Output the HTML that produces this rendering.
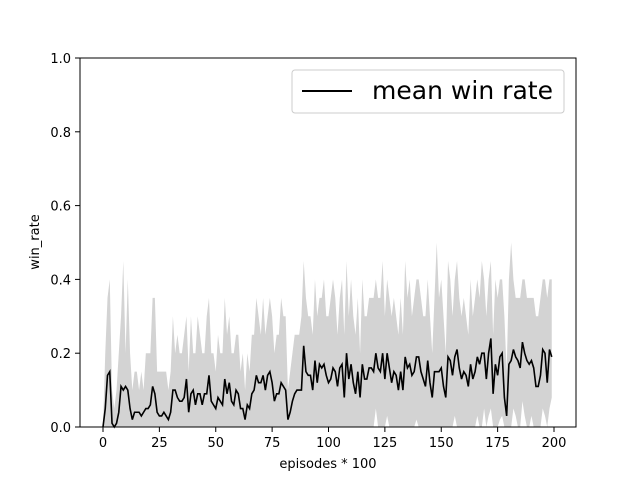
<!DOCTYPE html>
<html><head><meta charset="utf-8"><style>body{margin:0;background:#fff}svg{display:block;font-family:"DejaVu Sans","Liberation Sans",sans-serif}</style></head>
<body>
<svg id="chart" width="640" height="480" viewBox="0 0 640 480" xmlns="http://www.w3.org/2000/svg">
<rect width="640" height="480" fill="#fff"/>
<g id="plot"></g>
<rect x="80" y="58" width="496" height="369" fill="none" stroke="#000" stroke-width="1"/>
<g id="ticks" font-size="13" fill="#000"></g>
<text x="328" y="468" font-size="13" text-anchor="middle">episodes * 100</text>
<text transform="translate(39,242) rotate(-90)" font-size="13" text-anchor="middle">win_rate</text>
<g>
<rect x="292" y="70" width="272" height="43" rx="3" fill="#fff" fill-opacity="0.8" stroke="#ccc"/>
<line x1="302" y1="91" x2="352" y2="91" stroke="#000" stroke-width="2"/>
<text x="372" y="99" font-size="25" textLength="181">mean win rate</text>
</g>
</svg>
<script>
const meanVals=[0,.05,.14,.15,.01,0,.01,.04,.11,.10,.11,.10,.05,.02,.04,.04,.04,.03,.04,.05,
.05,.06,.11,.09,.04,.03,.03,.04,.03,.02,.04,.10,.10,.08,.07,.07,.08,.13,.04,.09,
.10,.06,.09,.09,.06,.09,.09,.14,.07,.06,.05,.08,.07,.06,.13,.09,.12,.07,.06,.10,
.09,.05,.05,.02,.06,.05,.09,.10,.14,.12,.12,.14,.10,.14,.15,.12,.07,.09,.09,.12,
.11,.10,.02,.04,.07,.09,.10,.10,.10,.22,.15,.14,.14,.10,.18,.12,.17,.16,.17,.14,
.12,.13,.16,.15,.11,.16,.17,.08,.20,.13,.17,.12,.09,.15,.08,.17,.13,.13,.16,.16,
.15,.20,.16,.15,.20,.13,.20,.16,.12,.15,.14,.10,.15,.10,.19,.16,.17,.14,.15,.19,
.19,.15,.13,.11,.18,.12,.08,.15,.15,.15,.16,.11,.08,.19,.18,.14,.19,.21,.16,.13,
.15,.14,.11,.17,.13,.15,.19,.17,.20,.20,.13,.20,.24,.09,.17,.14,.19,.20,.08,.03,
.17,.18,.21,.19,.18,.16,.23,.20,.18,.17,.18,.16,.11,.11,.14,.21,.20,.12,.21,.19];
const upperVals=[0,.2,.35,.4,.1,.05,.1,.2,.3,.45,.2,.4,.2,.1,.15,.15,.1,.15,.1,.2,
.2,.2,.35,.35,.15,.15,.15,.15,.15,.1,.15,.3,.2,.25,.2,.2,.25,.3,.15,.3,
.2,.2,.3,.25,.2,.2,.3,.35,.2,.2,.15,.25,.2,.2,.35,.25,.3,.2,.2,.25,
.25,.15,.2,.1,.2,.15,.25,.25,.35,.3,.25,.35,.25,.3,.35,.3,.2,.25,.25,.35,
.3,.3,.1,.15,.2,.25,.25,.25,.3,.45,.35,.3,.3,.25,.4,.3,.35,.35,.4,.3,
.3,.35,.4,.35,.25,.35,.4,.25,.45,.3,.4,.3,.25,.35,.2,.4,.3,.3,.35,.35,
.35,.4,.35,.35,.45,.3,.4,.35,.3,.35,.3,.25,.35,.25,.45,.35,.4,.3,.35,.4,
.4,.35,.3,.3,.4,.3,.2,.35,.5,.35,.4,.3,.2,.45,.4,.3,.4,.45,.35,.3,
.35,.3,.25,.4,.3,.35,.4,.35,.45,.4,.3,.4,.45,.25,.4,.35,.4,.4,.3,.15,
.4,.5,.4,.35,.35,.35,.4,.4,.35,.35,.35,.35,.3,.3,.35,.4,.4,.35,.4,.4];
const lowerVals=[0,0,0,0,0,0,0,0,0,0,0,0,0,0,0,0,0,0,0,0,
0,0,0,0,0,0,0,0,0,0,0,0,0,0,0,0,0,0,0,0,
0,0,0,0,0,0,0,0,0,0,0,0,0,0,0,0,0,0,0,0,
0,0,0,0,0,0,0,0,0,0,0,0,0,0,0,0,0,0,0,0,
0,0,0,0,0,0,0,0,0,0,0,0,0,0,0,0,0,0,0,0,
0,0,0,0,0,0,0,0,0,0,0,0,0,0,0,0,0,0,0,0,
0,.05,0,0,0,0,.03,0,0,0,0,0,0,0,0,0,0,0,0,.02,
0,0,0,0,0,0,0,0,0,0,0,0,0,0,0,0,.03,0,0,0,
0,0,0,0,0,0,.03,0,0,.05,0,.03,.05,0,0,0,.02,.03,0,0,
0,0,.05,.03,0,0,.07,.03,0,0,.03,0,0,0,0,.05,.03,0,.05,.08];
const xTicks=[0,25,50,75,100,125,150,175,200];
const yTicks=[0,0.2,0.4,0.6,0.8,1.0];
const yTickLabels=["0.0","0.2","0.4","0.6","0.8","1.0"];

const NS="http://www.w3.org/2000/svg";
function xs(v){return 103+v*(451/200);}
function ys(v){return 427-v*369;}
const plot=document.getElementById('plot');
let d="M"+xs(0)+","+ys(upperVals[0]);
for(let i=1;i<upperVals.length;i++)d+=" L"+xs(i)+","+ys(upperVals[i]);
for(let i=lowerVals.length-1;i>=0;i--)d+=" L"+xs(i)+","+ys(lowerVals[i]);
d+="Z";
const band=document.createElementNS(NS,'path');
band.setAttribute('d',d);band.setAttribute('fill','#d3d3d3');


plot.appendChild(band);
const line=document.createElementNS(NS,'polyline');
line.setAttribute('points',meanVals.map((v,i)=>xs(i)+","+ys(v)).join(" "));
line.setAttribute('fill','none');line.setAttribute('stroke','#000');line.setAttribute('stroke-width','1.6');


plot.appendChild(line);
const tg=document.getElementById('ticks');
xTicks.forEach(t=>{
 const l=document.createElementNS(NS,'line');
 l.setAttribute('x1',xs(t));l.setAttribute('x2',xs(t));l.setAttribute('y1',427);l.setAttribute('y2',432);l.setAttribute('stroke','#000');
 
 
 tg.appendChild(l);
 const tx=document.createElementNS(NS,'text');
 tx.setAttribute('x',xs(t));tx.setAttribute('y',447);tx.setAttribute('text-anchor','middle');tx.textContent=t;
 
 
 tg.appendChild(tx);
});
yTicks.forEach((t,i)=>{
 const l=document.createElementNS(NS,'line');
 l.setAttribute('x1',75);l.setAttribute('x2',80);l.setAttribute('y1',ys(t));l.setAttribute('y2',ys(t));l.setAttribute('stroke','#000');
 
 
 tg.appendChild(l);
 const tx=document.createElementNS(NS,'text');
 tx.setAttribute('x',71);tx.setAttribute('y',ys(t)+5);tx.setAttribute('text-anchor','end');tx.textContent=yTickLabels[i];
 
 
 tg.appendChild(tx);
});
</script>
</body></html>
